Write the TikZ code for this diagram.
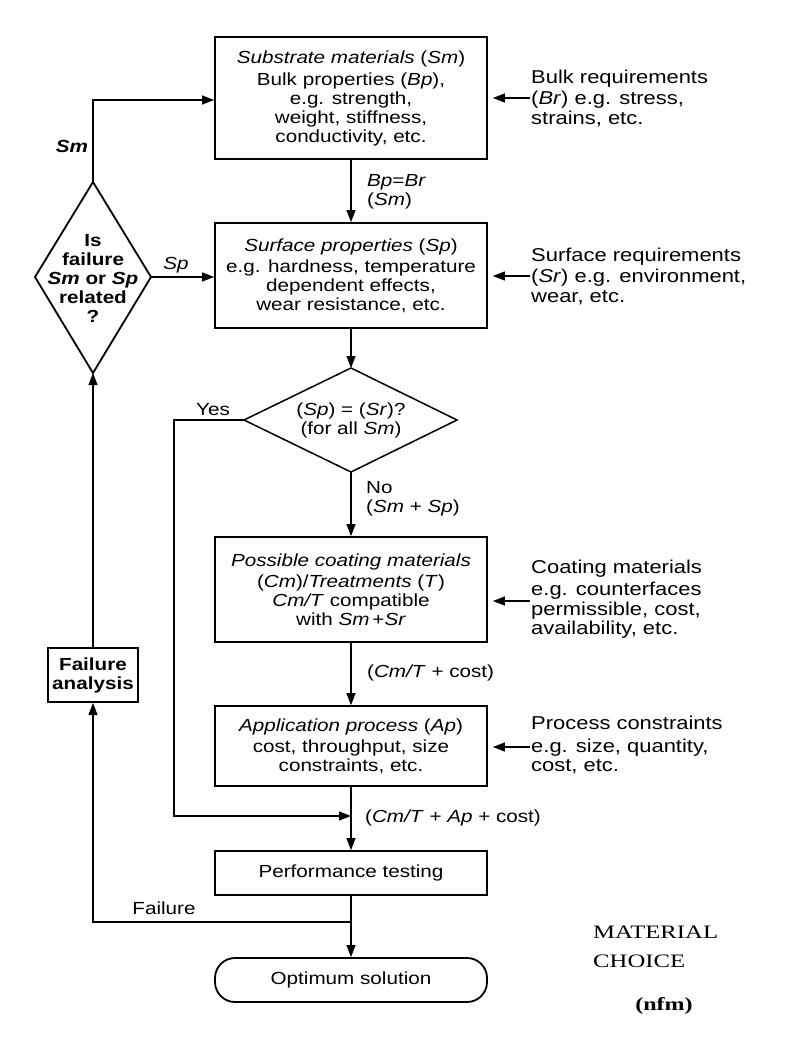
\documentclass[tikz,border=0pt]{standalone}
\usepackage{fontspec}
\setmainfont{Liberation Sans}[FakeStretch=1.18]
\newfontfamily\serifx{Liberation Serif}[FakeStretch=1.3]
\usetikzlibrary{arrows.meta,shapes.geometric}
\begin{document}
\begin{tikzpicture}[x=1pt,y=-1pt,
  font=\fontsize{17.5}{19}\selectfont,
  box/.style={draw,line width=1.8pt,minimum width=272pt,align=center,inner sep=0pt},
  conn/.style={line width=1.2pt},
  arr/.style={conn,-{Triangle[length=12pt,width=9pt]}},
  lbl/.style={align=left,inner sep=0pt},
  rtext/.style={align=left,inner sep=0pt,anchor=west,font=\fontsize{18.6}{19.5}\selectfont},
  dia/.style={line width=1.8pt,line join=miter}]
\useasboundingbox (0,0) rectangle (791,1046);
\fill[white] (0,0) rectangle (791,1046);

% main boxes
\node[box,minimum height=122pt] (b1) at (351,98) {\textit{Substrate materials} (\textit{Sm})\\[3pt] Bulk properties (\textit{Bp}),\\ e.g. strength,\\ weight, stiffness,\\ conductivity, etc.};
\node[box,minimum height=105pt] (b2) at (351,275.5) {\textit{Surface properties} (\textit{Sp})\\[2pt] e.g. hardness, temperature\\ dependent effects,\\ wear resistance, etc.};
\node[box,minimum height=105pt] (b3) at (351,589.5) {\textit{Possible coating materials}\\[2pt] (\textit{Cm})/\textit{Treatments} (\textit{T})\\ \textit{Cm/T} compatible\\ with \textit{Sm}\,+\textit{Sr}};
\node[box,minimum height=80pt] (b4) at (351,746) {\textit{Application process} (\textit{Ap})\\[2pt] cost, throughput, size\\ constraints, etc.};
\node[box,minimum height=44pt] (b5) at (351,873) {Performance testing};
\node[box,minimum height=44pt,rounded corners=20pt] (b6) at (351,980) {Optimum solution};
\node[draw,line width=2pt,minimum width=90pt,minimum height=54pt,align=center,inner sep=0pt,font=\fontsize{17.5}{19}\selectfont\bfseries] (fa) at (93,675) {Failure\\ analysis};

% diamond 1
\coordinate (d1t) at (93,182);
\coordinate (d1r) at (151,277);
\coordinate (d1b) at (93,373);
\coordinate (d1l) at (35,277);
\draw[dia] (d1t) -- (d1r) -- (d1b) -- (d1l) -- cycle;
\node[align=center,inner sep=0pt,font=\fontsize{17.5}{19}\selectfont\bfseries] (d1text) at (93,278) {Is\\ failure\\ \textit{Sm} or \textit{Sp}\\ related\\ ?};

% diamond 2
\coordinate (d2t) at (351,368);
\coordinate (d2r) at (457,420);
\coordinate (d2b) at (351,472);
\coordinate (d2l) at (244,420);
\draw[line width=1.5pt,line join=miter] (d2t) -- (d2r) -- (d2b) -- (d2l) -- cycle;
\node[align=center,inner sep=0pt] (d2text) at (351,420) {(\textit{Sp}) = (\textit{Sr})?\\ (for all \textit{Sm})};

% right-hand texts
\node[rtext] (r1) at (531,98) {Bulk requirements\\[2pt] (\textit{Br}) e.g. stress,\\ strains, etc.};
\node[rtext] (r2) at (531,276) {Surface requirements\\[2pt] (\textit{Sr}) e.g. environment,\\ wear, etc.};
\node[rtext] (r3) at (531,599) {Coating materials\\[3pt] e.g. counterfaces\\ permissible, cost,\\ availability, etc.};
\node[rtext] (r4) at (531,745) {Process constraints\\[3pt] e.g. size, quantity,\\ cost, etc.};

\draw[arr,shorten >=5pt] ([xshift=-1pt]r1.west) -- (b1.east |- r1.west);
\draw[arr,shorten >=5pt] ([xshift=-1pt]r2.west) -- (b2.east |- r2.west);
\draw[arr,shorten >=5pt] ([xshift=-1pt,yshift=-2pt]r3.west) -- ([yshift=-2pt]b3.east |- r3.west);
\draw[arr,shorten >=5pt] ([xshift=-1pt,yshift=-2pt]r4.west) -- ([yshift=-2pt]b4.east |- r4.west);

% main flow
\draw[arr] (b1) -- (b2);
\draw[arr] (b2) -- (d2t);
\draw[arr] (d2b) -- (b3);
\draw[arr] (b3) -- (b4);
\draw[arr] (b4) -- (b5);
\draw[arr] (b5) -- (b6);

% yes branch
\coordinate (yesbend) at (174,816);
\coordinate (yesend) at (351,816);
\draw[arr] (d2l) -| (yesbend) -- (yesend);

% failure loop
\coordinate (failstart) at (351,922);
\coordinate (failbend) at (93,922);
\draw[arr] (failstart) -- (failbend) -- (fa);
\draw[arr] (fa) -- (d1b);
\coordinate (smbend) at (93,100);
\draw[arr] (d1t) -- (smbend) -- (b1.west |- smbend);
\draw[arr] (d1r) -- (b2.west |- d1r);

% labels
\node[lbl,anchor=west] (lbp) at (367,192) {\textit{Bp}=\textit{Br}\\ (\textit{Sm})};
\node[lbl,anchor=west] (lno) at (366,499) {No\\ (\textit{Sm} + \textit{Sp})};
\node[lbl,anchor=west] (lcm) at (367,673) {(\textit{Cm/T} + cost)};
\node[lbl,anchor=west] (lap) at (365,818) {(\textit{Cm/T} + \textit{Ap} + cost)};
\node[lbl] (lyes) at (213,410) {Yes};
\node[lbl] (lfail) at (164,908) {Failure};
\node[lbl,font=\fontsize{17.5}{19}\selectfont\bfseries\itshape] (lsm) at (72,146) {Sm};
\node[lbl] (lsp) at (176,265) {\textit{Sp}};

% caption
\node[lbl,anchor=west,font=\serifx\fontsize{19}{29}\selectfont] (cap) at (593,947) {MATERIAL\\ CHOICE};
\node[lbl,font=\serifx\fontsize{18.5}{22}\selectfont\bfseries] (nfm) at (664,1006) {(nfm)};
\end{tikzpicture}
\end{document}
